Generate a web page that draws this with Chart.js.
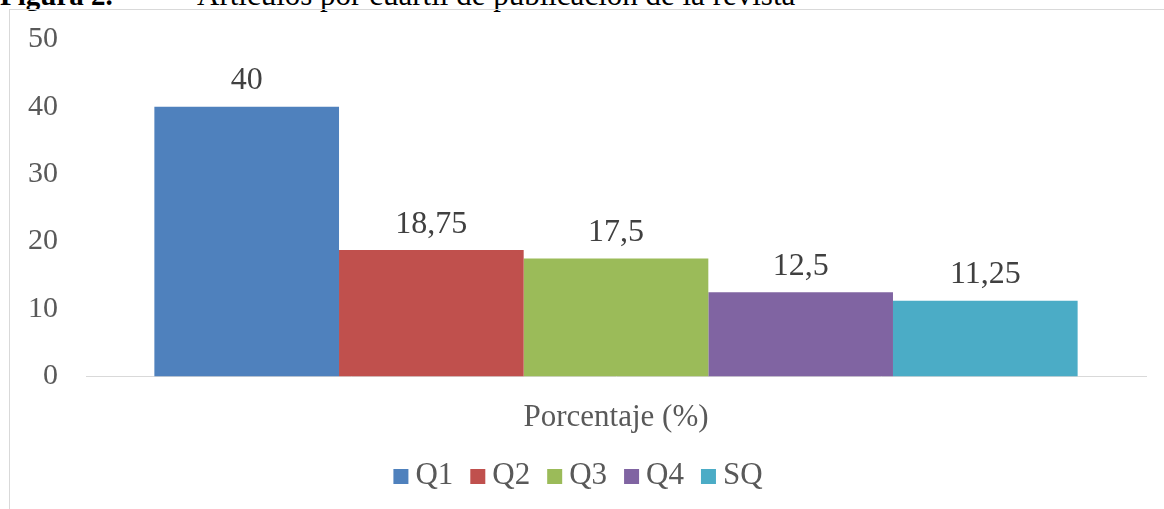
<!DOCTYPE html>
<html>
<head>
<meta charset="utf-8">
<script src="https://cdn.jsdelivr.net/npm/chart.js@4"></script>
<style>
  html, body { margin: 0; padding: 0; background: #fff; overflow: hidden; }
  body { width: 1164px; height: 509px; position: relative; }
  #frame { position: absolute; left: 9px; top: 9px; width: 1200px; height: 600px; border: 1px solid #D9D9D9; box-sizing: border-box; }
  #caption { position: absolute; left: 0; top: -21px; font-family: "Liberation Serif", serif; font-size: 31px; line-height: 31px; color: #000; white-space: nowrap; }
  #caption b { display: inline-block; width: 197px; font-size: 29px; }
  #wrap { position: absolute; left: 0; top: 0; width: 1164px; height: 509px; }
</style>
</head>
<body>
<div id="caption"><b>Figura 2.</b>Artículos por cuartil de publicación de la revista</div>
<div id="frame"></div>
<div id="wrap"><canvas id="c"></canvas></div>
<script>
const categories = ['Porcentaje (%)'];
const seriesNames = ['Q1', 'Q2', 'Q3', 'Q4', 'SQ'];
const seriesValues = [40, 18.75, 17.5, 12.5, 11.25];
const seriesColors = ['#4F81BD', '#C0504D', '#9BBB59', '#8064A2', '#4BACC6'];
const yTicks = [0, 10, 20, 30, 40, 50];

const FONT = '"Liberation Serif", "Times New Roman", serif';
const fmt = v => String(v).replace('.', ',');

const labelPlugin = {
  id: 'barLabels',
  afterDatasetsDraw(chart) {
    const ctx = chart.ctx;
    ctx.save();
    ctx.font = '32px ' + FONT;
    ctx.fillStyle = '#404040';
    ctx.textAlign = 'center';
    ctx.textBaseline = 'alphabetic';
    chart.data.datasets.forEach((ds, i) => {
      const meta = chart.getDatasetMeta(i);
      meta.data.forEach((el, j) => {
        ctx.fillText(fmt(ds.data[j]), el.x, el.y - 17.5);
      });
    });
    ctx.restore();
  }
};

const legendPlugin = {
  id: 'customLegend',
  afterDraw(chart) {
    const ctx = chart.ctx;
    const box = 15, gapText = 7, gapItem = 17, centerX = 578, boxTop = 469, baseline = 483.5;
    ctx.save();
    ctx.font = '31px ' + FONT;
    const items = chart.data.datasets.map(ds => ({ ds, w: ctx.measureText(ds.label).width }));
    const total = items.reduce((a, it) => a + box + gapText + it.w, 0) + gapItem * (items.length - 1);
    let x = centerX - total / 2;
    items.forEach(it => {
      ctx.fillStyle = it.ds.backgroundColor;
      ctx.fillRect(x, boxTop, box, box);
      ctx.fillStyle = '#595959';
      ctx.textAlign = 'left';
      ctx.textBaseline = 'alphabetic';
      ctx.fillText(it.ds.label, x + box + gapText, baseline);
      x += box + gapText + it.w + gapItem;
    });
    ctx.restore();
  }
};

new Chart(document.getElementById('c'), {
  type: 'bar',
  data: {
    labels: categories,
    datasets: seriesNames.map((n, i) => ({
      label: n,
      data: [seriesValues[i]],
      backgroundColor: seriesColors[i],
      borderWidth: 0
    }))
  },
  options: {
    responsive: true,
    maintainAspectRatio: false,
    animation: false,
    datasets: { bar: { barPercentage: 1, categoryPercentage: 0.871 } },
    layout: { padding: { left: 0, right: 18, top: 39.3, bottom: 0 } },
    plugins: {
      tooltip: { enabled: false },
      legend: { display: false }
    },
    scales: {
      x: {
        afterFit: s => { s.height = 132.5; },
        grid: { display: false },
        border: { display: true, color: '#D9D9D9', width: 1 },
        ticks: {
          color: '#595959',
          padding: 15,
          font: { family: FONT, size: 31 }
        }
      },
      y: {
        min: 0,
        max: 50,
        afterBuildTicks: s => { s.ticks = yTicks.map(v => ({ value: v })); },
        afterFit: s => { s.width = 86; },
        grid: { display: false },
        border: { display: false },
        ticks: {
          color: '#595959',
          padding: 20,
          font: { family: FONT, size: 30 }
        }
      }
    }
  },
  plugins: [labelPlugin, legendPlugin]
});
</script>
</body>
</html>
